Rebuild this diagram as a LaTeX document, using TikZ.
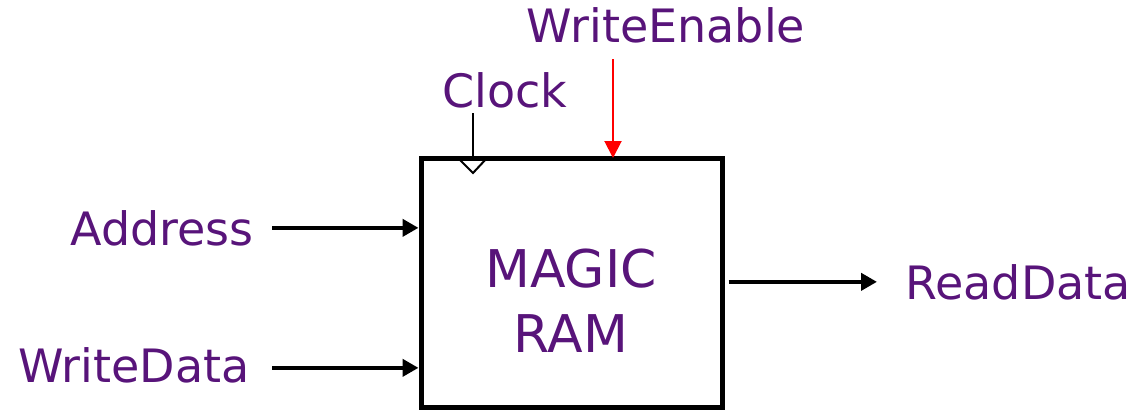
\documentclass[tikz,border=0pt]{standalone}
\usepackage{fontspec}
\setmainfont{DejaVu Sans}
\usetikzlibrary{arrows.meta}
\usetikzlibrary{calc}
\definecolor{labelpurple}{RGB}{88,20,122}
\tikzset{
lbl/.style={text=labelpurple, inner sep=0pt, font=\fontsize{23}{27}\selectfont},
sig/.style={line width=2.3pt, -{Triangle[length=8pt,width=8.5pt]}},
pin/.style={line width=1pt}}

\begin{document}
\begin{tikzpicture}[x=0.5pt,y=-0.5pt]
    \useasboundingbox (0,0) rectangle (1136,412);

                \node[draw, line width=2.5pt, minimum width=150.5pt, minimum height=124.5pt, inner sep=0pt] (ram) at (571.5,282.5) {};
                \node[lbl, font=\fontsize{26}{32.5}\selectfont, align=center] (ramtext) at (571,300.5) {MAGIC\\RAM};

                \node[lbl, anchor=base east] (addr) at (254,245) {Address};
                \node[lbl, anchor=base east] (wdata) at (250,382) {WriteData};
                \node[lbl, anchor=base west] (rdata) at (905,299) {ReadData};
                \node[lbl, anchor=base] (clk) at (505,107) {Clock};
                \node[lbl, anchor=base] (we) at (666,42) {WriteEnable};

                \coordinate (clkpin) at (473,158);
                \coordinate (wepin) at (613,158);

                \draw[sig] ($(addr.east)+(18,0)$) -- (addr.east -| ram.west);
                \draw[sig] ($(wdata.east)+(22,3)$) -- ($(wdata.east -| ram.west)+(0,3)$);
                \draw[sig] ($(rdata.west -| ram.east)+(4,0)$) -- ($(rdata.west)+(-28,0)$);
                \draw[pin] ($(clk.south -| clkpin)+(0,5)$) -- (clkpin);
                \draw[pin] ($(clkpin)+(-15,0)$) -- ($(clkpin)+(0,15)$) -- ($(clkpin)+(14,0)$);
                \draw[pin, red, -{Triangle[length=8.5pt,width=8.5pt]}] ($(we.south -| wepin)+(0,16)$) -- (wepin);

\end{tikzpicture}
\end{document}
